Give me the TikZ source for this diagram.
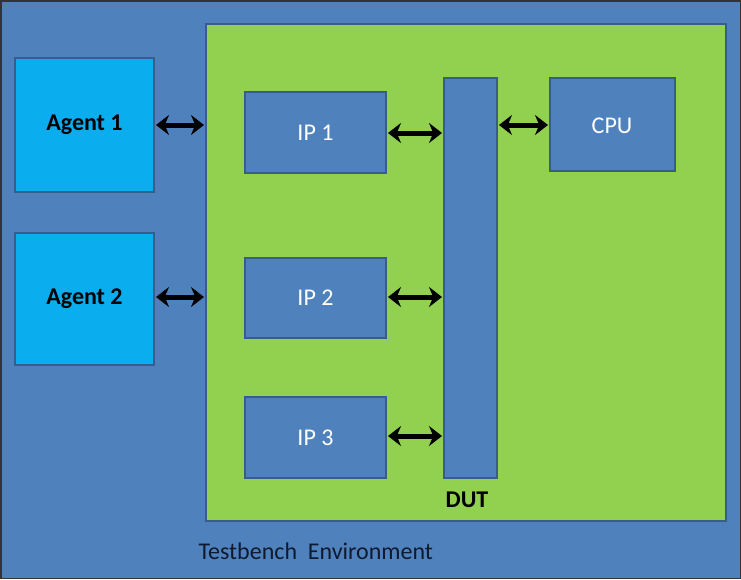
\documentclass[tikz,border=0pt]{standalone}
\usepackage{fontspec}
\setmainfont{Carlito}
\usetikzlibrary{arrows.meta}
\definecolor{bgblue}{HTML}{4F81BD}
\definecolor{edgeblue}{HTML}{385D8A}
\definecolor{dutgreen}{HTML}{92D050}
\definecolor{agentcyan}{HTML}{0AADEE}
\definecolor{darktext}{HTML}{0F1A2E}
\tikzset{
  box/.style={draw=edgeblue, line width=2pt, fill=bgblue, inner sep=0pt},
  agentbox/.style={box, fill=agentcyan, font=\fontsize{24}{28}\selectfont\bfseries, text=black},
  ipbox/.style={box, font=\fontsize{24}{28}\selectfont, text=white},
  link/.style={line width=5pt, {Stealth[length=13pt,width=20pt]}-{Stealth[length=13pt,width=20pt]}, black, shorten <=1pt, shorten >=1pt},
}
\begin{document}
\begin{tikzpicture}[x=1pt,y=-1pt]
\useasboundingbox (0,0) rectangle (741,579);
\fill[bgblue] (0,0) rectangle (741,579);
\draw[black!80, line width=1.5pt] (0.75,0.75) rectangle (740.25,578.25);
% DUT
\node[box, fill=dutgreen, minimum width=520pt, minimum height=497pt, anchor=north west] (dut) at (205,23) {};
\node[font=\fontsize{24}{28}\selectfont\bfseries, text=black] (dutlbl) at (467,500) {DUT};
% agents
\node[agentbox, minimum width=139pt, minimum height=134pt, anchor=north west] (ag1) at (14,57) {Agent 1};
\node[agentbox, minimum width=139pt, minimum height=132pt, anchor=north west] (ag2) at (14,232) {Agent 2};
% IPs
\node[ipbox, minimum width=141pt, minimum height=81pt, anchor=north west] (ip1) at (244,91) {IP 1};
\node[ipbox, minimum width=141pt, minimum height=80pt, anchor=north west] (ip2) at (244,257) {IP 2};
\node[ipbox, minimum width=141pt, minimum height=81pt, anchor=north west] (ip3) at (244,396) {IP 3};
% bus
\node[box, minimum width=53pt, minimum height=400pt, anchor=north west] (bus) at (443,77) {};
% CPU
\node[ipbox, minimum width=125pt, minimum height=93pt, anchor=north west] (cpu) at (549,77) {};
\node[font=\fontsize{24}{28}\selectfont, text=white] (cpulbl) at (612,126) {CPU};
% label
\node[font=\fontsize{24}{28}\selectfont, text=darktext, anchor=west] (tb) at (195,551) {Testbench\ \ Environment};
% links
\draw[link] (ag1.east |- 0,125) -- (dut.west |- 0,125);
\draw[link] (ag2.east |- 0,297) -- (dut.west |- 0,297);
\draw[link] (ip1.east |- 0,133) -- (bus.west |- 0,133);
\draw[link] (ip2.east |- 0,297) -- (bus.west |- 0,297);
\draw[link] (ip3.east |- 0,436) -- (bus.west |- 0,436);
\draw[link] (bus.east |- 0,125) -- (cpu.west |- 0,125);
\end{tikzpicture}
\end{document}
